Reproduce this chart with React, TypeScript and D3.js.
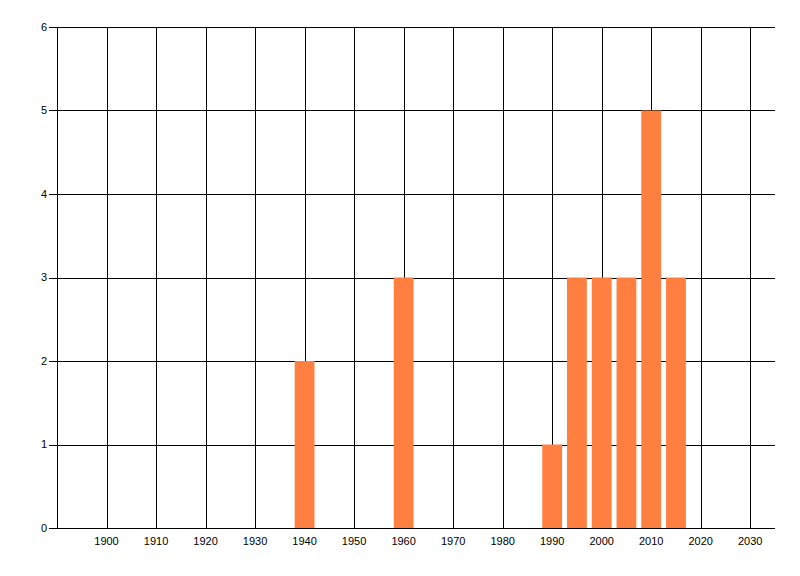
import { useEffect, useRef } from "react";
import * as d3 from "d3";

// decade start years and the count for each bar
const years = [1940, 1960, 1990, 1995, 2000, 2005, 2010, 2015];
const counts = [2, 3, 1, 3, 3, 3, 5, 3];
const xTicks = [1900, 1910, 1920, 1930, 1940, 1950, 1960, 1970, 1980, 1990, 2000, 2010, 2020, 2030];
const yTicks = [0, 1, 2, 3, 4, 5, 6];

const App = () => {
  const ref = useRef<SVGSVGElement>(null);

  useEffect(() => {
    const width = 800;
    const height = 576;
    const margin = { top: 27, right: 25, bottom: 48, left: 57 };
    const barYears = 4;

    const svg = d3.select(ref.current);
    svg.selectAll("*").remove();

    const x = d3
      .scaleLinear()
      .domain([1890, 2035])
      .range([margin.left, width - margin.right]);
    const y = d3
      .scaleLinear()
      .domain([0, 6])
      .range([height - margin.bottom, margin.top]);

    const font = "'Liberation Sans', Arial, sans-serif";

    // vertical grid
    svg
      .append("g")
      .selectAll("line")
      .data(xTicks)
      .enter()
      .append("line")
      .attr("x1", (d) => Math.round(x(d)) + 0.5)
      .attr("x2", (d) => Math.round(x(d)) + 0.5)
      .attr("y1", y(6))
      .attr("y2", y(0))
      .attr("stroke", "#000")
      .attr("stroke-width", 1);

    // horizontal grid + left ticks
    svg
      .append("g")
      .selectAll("line")
      .data(yTicks)
      .enter()
      .append("line")
      .attr("x1", margin.left - 8)
      .attr("x2", width - margin.right)
      .attr("y1", (d) => Math.round(y(d)) + 0.5)
      .attr("y2", (d) => Math.round(y(d)) + 0.5)
      .attr("stroke", "#000")
      .attr("stroke-width", 1);

    // left axis line
    svg
      .append("line")
      .attr("x1", Math.round(x(1890)) + 0.5)
      .attr("x2", Math.round(x(1890)) + 0.5)
      .attr("y1", y(6))
      .attr("y2", y(0))
      .attr("stroke", "#000");

    // bars
    svg
      .append("g")
      .selectAll("rect")
      .data(years)
      .enter()
      .append("rect")
      .attr("x", (d) => x(d - barYears / 2))
      .attr("width", x(barYears) - x(0))
      .attr("y", (_, i) => y(counts[i]))
      .attr("height", (_, i) => y(0) - y(counts[i]))
      .attr("fill", "#ff7f41");

    // bottom axis line on top of bars
    svg
      .append("line")
      .attr("x1", margin.left)
      .attr("x2", width - margin.right)
      .attr("y1", Math.round(y(0)) + 0.5)
      .attr("y2", Math.round(y(0)) + 0.5)
      .attr("stroke", "#000");

    // x labels
    svg
      .append("g")
      .selectAll("text")
      .data(xTicks)
      .enter()
      .append("text")
      .attr("x", (d) => x(d))
      .attr("y", y(0) + 13)
      .attr("dy", "0.35em")
      .attr("text-anchor", "middle")
      .style("font-family", font)
      .style("font-size", "11px")
      .style("fill", "#000")
      .text((d) => d);

    // y labels
    svg
      .append("g")
      .selectAll("text")
      .data(yTicks)
      .enter()
      .append("text")
      .attr("x", margin.left - 10)
      .attr("y", (d) => y(d))
      .attr("dy", "0.35em")
      .attr("text-anchor", "end")
      .style("font-family", font)
      .style("font-size", "11px")
      .style("fill", "#000")
      .text((d) => d);
  }, []);

  return (
    <svg
      ref={ref}
      width={800}
      height={576}
      style={{ position: "absolute", left: 0, top: 0, background: "#fff" }}
    />
  );
};

export default App;
